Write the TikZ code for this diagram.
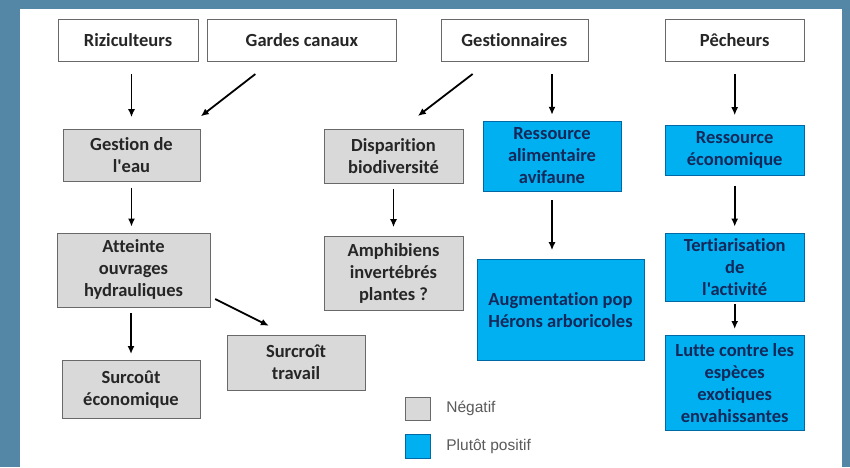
\documentclass[tikz,border=0pt]{standalone}
\usepackage{fontspec}
\setmainfont{Carlito}[Ligatures={TeXOff,NoCommon}]
\newfontfamily\legendfont{Liberation Sans}
\usepackage{tikz}
\usetikzlibrary{arrows.meta,positioning}
\definecolor{frameblue}{RGB}{84,134,166}
\definecolor{negfill}{RGB}{217,217,217}
\definecolor{negdraw}{RGB}{105,105,105}
\definecolor{posfill}{RGB}{0,176,240}
\definecolor{posdraw}{RGB}{0,105,165}
\definecolor{postext}{RGB}{20,40,90}
\definecolor{legtext}{RGB}{90,90,90}

\begin{document}
\begin{tikzpicture}[x=1pt,y=1pt,
  abox/.style={draw=negdraw,fill=white,inner sep=0pt,align=center,
               font=\fontsize{18.5}{22}\selectfont\bfseries,text=black!85},
  nbox/.style={abox,fill=negfill},
  pbox/.style={abox,draw=posdraw,fill=posfill,text=postext},
  keytext/.style={inner sep=0pt,text=legtext,font=\legendfont\fontsize{15.5}{18}\selectfont},
  parr/.style={-{Latex[length=8pt,width=7pt]},line width=1.8pt,
               shorten <=6pt,shorten >=6pt},
  tarr/.style={parr,shorten <=13pt,shorten >=12pt}
]
\fill[frameblue] (0,0) rectangle (850,-467);
\fill[white] (20,-9) rectangle (842,-467);
% acteurs
\node[abox,minimum width=140pt,minimum height=42pt] (rizi) at (128,-40) {Riziculteurs};
\node[abox,minimum width=189pt,minimum height=42pt,right=9pt of rizi] (gardes) {Gardes canaux};
\node[abox,minimum width=147pt,minimum height=42pt,right=44pt of gardes] (gest) {Gestionnaires};
\node[abox,minimum width=139pt,minimum height=42pt,right=77pt of gest] (pech) {Pêcheurs};
% effets
\node[nbox,minimum width=137pt,minimum height=52pt,below=68pt of rizi,xshift=3.5pt] (eau) {Gestion de\\l'eau};
\node[nbox,minimum width=153pt,minimum height=74pt,below=51pt of eau,xshift=2pt] (atteinte) {Atteinte\\ouvrages\\hydrauliques};
\node[nbox,minimum width=138pt,minimum height=58pt,below=53pt of atteinte,xshift=-2.5pt] (surcout) {Surcoût\\économique};
\node[nbox,minimum width=138pt,minimum height=55pt] (surcroit) at (296,-362.5) {Surcroît\\travail};
\node[nbox,minimum width=139pt,minimum height=54pt] (dispar) at (393.5,-156) {Disparition\\biodiversité};
\node[nbox,minimum width=139pt,minimum height=74pt,below=53pt of dispar] (amphi) {Amphibiens\\invertébrés\\plantes ?};
\node[pbox,minimum width=138pt,minimum height=70pt] (ralim) at (552,-156) {Ressource\\alimentaire\\avifaune};
\node[pbox,minimum width=167pt,minimum height=101pt,below=68pt of ralim,xshift=8.5pt] (augm) {Augmentation pop\\Hérons arboricoles};
\node[pbox,minimum width=139pt,minimum height=50pt,below=64pt of pech] (reco) {Ressource\\économique};
\node[pbox,minimum width=139pt,minimum height=68pt,below=57pt of reco] (tert) {Tertiarisation\\de\\l'activité};
\node[pbox,minimum width=139pt,minimum height=95pt,below=34pt of tert] (lutte) {Lutte contre les\\espèces\\exotiques\\envahissantes};
% legende
\node[nbox,minimum width=25pt,minimum height=23pt] (negkey) at (417.5,-408.5) {};
\node[pbox,minimum width=25pt,minimum height=24pt] (poskey) at (417.5,-446) {};
\node[keytext,right=16pt of negkey] (neglabel) {Négatif};
\node[keytext,right=16pt of poskey] (poslabel) {Plutôt positif};
% fleches
\draw[tarr] (eau.north |- rizi.south) -- (eau.north);
\draw[parr,shorten <=21pt,shorten >=21pt] ([xshift=-30pt]gardes.south) -- ([xshift=-16pt]eau.north east);
\draw[parr,shorten <=21pt,shorten >=21pt] ([xshift=-25pt]gest.south) -- ([xshift=-62pt]dispar.north east);
\draw[tarr,shorten >=6pt] (ralim.north |- gest.south) -- (ralim.north);
\draw[tarr,shorten >=10pt] (pech) -- (reco);
\draw[parr] (eau.south) -- (eau.south |- atteinte.north);
\draw[parr,shorten >=9pt] (dispar) -- (amphi);
\draw[parr,shorten <=9pt,shorten >=9pt] (ralim.south) -- (ralim.south |- augm.north);
\draw[parr,shorten <=10pt] (reco) -- (tert);
\draw[parr] (surcout.north |- atteinte.south) -- (surcout.north);
\draw[parr,shorten <=3pt] (tert) -- (lutte);
\draw[parr,shorten <=0pt,shorten >=0pt] ([shift={(5pt,8pt)}]atteinte.south east) -- ([shift={(42pt,9pt)}]surcroit.north west);
\end{tikzpicture}
\end{document}
